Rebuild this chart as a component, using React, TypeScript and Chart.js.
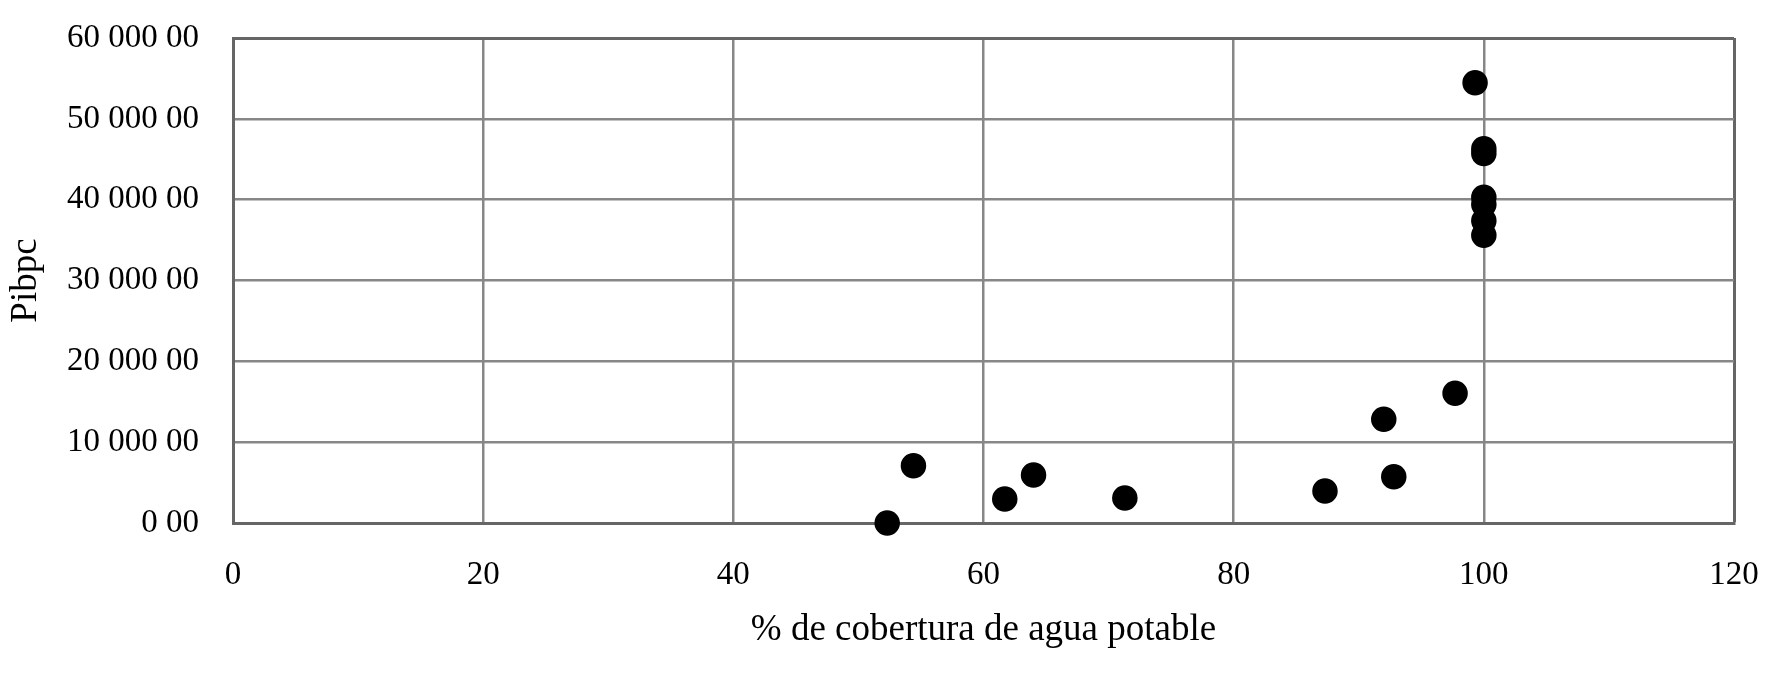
import React, { useEffect, useRef } from "react";
import { Chart, registerables } from "chart.js";

Chart.register(...registerables);

const coverage = [52.3, 54.4, 61.7, 64.0, 71.3, 87.3, 92.0, 92.8, 97.7, 99.3, 100, 100, 100, 100, 100, 100];
const pibpc = [0, 7090, 2970, 5940, 3090, 3960, 12830, 5730, 16050, 54470, 46300, 45700, 40300, 39400, 37400, 35600];
const yTickLabels = ["0 00", "10 000 00", "20 000 00", "30 000 00", "40 000 00", "50 000 00", "60 000 00"];
const xTitle = "% de cobertura de agua potable";
const yTitle = "Pibpc";

const FONT = "'Liberation Serif', 'Times New Roman', serif";
const GRID = "#878787";
const EDGE = "#666666";

export default function App() {
  const ref = useRef<HTMLCanvasElement | null>(null);
  useEffect(() => {
    if (!ref.current) return;
    const chart = new Chart(ref.current, {
      type: "scatter",
      data: {
        datasets: [
          {
            data: coverage.map((x, i) => ({ x, y: pibpc[i] })),
            backgroundColor: "#000",
            borderColor: "#000",
            pointRadius: 12,
            pointBorderWidth: 1.5,
            clip: false as any,
          },
        ],
      },
      options: {
        animation: false,
        responsive: false,
        maintainAspectRatio: false,
        layout: { padding: { left: 0, right: 38, top: 38, bottom: 0 } },
        plugins: { legend: { display: false }, tooltip: { enabled: false } },
        scales: {
          x: {
            type: "linear",
            min: 0,
            max: 120,
            afterFit: (s: any) => {
              s.height = 163;
              s.paddingLeft = 0;
              s.paddingRight = 0;
            },
            ticks: {
              stepSize: 20,
              padding: 33,
              color: "#000",
              font: { family: FONT, size: 33 },
            },
            grid: {
              color: (c: any) => (c.tick && c.tick.value === 120 ? EDGE : GRID),
              lineWidth: (c: any) => (c.tick && c.tick.value === 120 ? 3 : 2.5),
              drawTicks: false,
            },
            border: { color: EDGE, width: 3 },
            title: {
              display: true,
              text: xTitle,
              color: "#000",
              font: { family: FONT, size: 37 },
              padding: { top: 0, bottom: 34 },
            },
          },
          y: {
            type: "linear",
            min: 0,
            max: 60000,
            afterFit: (s: any) => {
              s.width = 233;
              s.paddingTop = 0;
              s.paddingBottom = 0;
            },
            ticks: {
              stepSize: 10000,
              padding: 34,
              color: "#000",
              font: { family: FONT, size: 33 },
              callback: (v: any) => yTickLabels[Math.round(Number(v) / 10000)],
            },
            grid: {
              color: (c: any) => (c.tick && c.tick.value === 60000 ? EDGE : GRID),
              lineWidth: (c: any) => (c.tick && c.tick.value === 60000 ? 3 : 2.5),
              drawTicks: false,
            },
            border: { color: EDGE, width: 3 },
            title: {
              display: true,
              text: yTitle,
              color: "#000",
              font: { family: FONT, size: 37 },
              padding: { top: 4, bottom: 0 },
            },
          },
        },
      },
    });
    return () => chart.destroy();
  }, []);
  return (
    <div style={{ position: "fixed", left: 0, top: 0, width: 1772, height: 686, background: "#fff" }}>
      <canvas ref={ref} width={1772} height={686} style={{ width: 1772, height: 686 }} />
    </div>
  );
}
